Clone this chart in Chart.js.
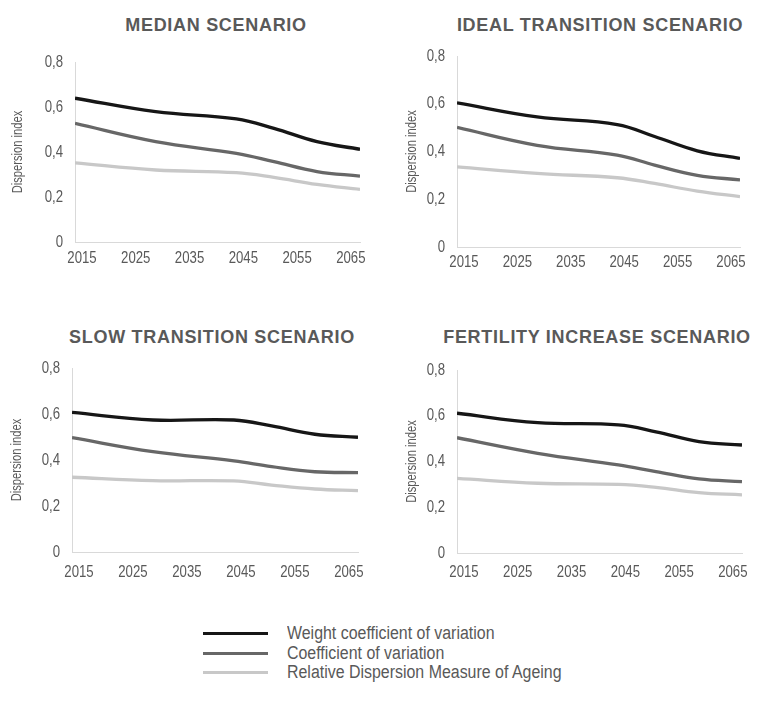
<!DOCTYPE html>
<html lang="en">
  <head>
    <title>Dispersion index scenarios</title>
    <meta charset="utf-8" />
    <script src="https://cdn.jsdelivr.net/npm/chart.js@4.4.1/dist/chart.umd.min.js"></script>
    <style>
      body {
        margin: 0;
        width: 760px;
        height: 706px;
        background: #fff;
        position: relative;
        overflow: hidden;
        font-family: "Liberation Sans", Arial, sans-serif;
        color: #595959;
      }
      .panel-title {
        position: absolute;
        transform: translate(-50%, -50%);
        white-space: nowrap;
        font-weight: bold;
        font-size: 18px;
        letter-spacing: 0.7px;
        color: #595959;
      }
      .chart-box {
        position: absolute;
      }
      .legend-row {
        position: absolute;
        left: 203px;
        height: 20px;
        width: 400px;
      }
      .legend-row .swatch {
        position: absolute;
        left: 0;
        top: 9px;
        width: 65px;
        height: 3px;
      }
      .legend-row .label {
        position: absolute;
        left: 84px;
        top: 0;
        line-height: 20px;
        font-size: 18px;
        white-space: nowrap;
        transform: scaleX(0.885);
        transform-origin: left center;
      }
    </style>
  </head>
  <body>
    <div id="legend"></div>

    <script>
      const years = [2015, 2030, 2045, 2052, 2060, 2068];
      const xTicks = [2015, 2025, 2035, 2045, 2055, 2065];
      const yTicks = [0, 0.2, 0.4, 0.6, 0.8];

      const seriesNames = [
        "Weight coefficient of variation",
        "Coefficient of variation",
        "Relative Dispersion Measure of Ageing"
      ];
      const seriesColors = ["#161616", "#676767", "#c8c8c8"];

      const medianWcv = [0.639, 0.579, 0.547, 0.505, 0.446, 0.412];
      const medianCv = [0.527, 0.446, 0.394, 0.357, 0.313, 0.293];
      const medianRdma = [0.352, 0.320, 0.308, 0.287, 0.256, 0.234];

      const idealWcv = [0.604, 0.545, 0.513, 0.463, 0.403, 0.371];
      const idealCv = [0.501, 0.426, 0.385, 0.343, 0.300, 0.281];
      const idealRdma = [0.336, 0.308, 0.290, 0.266, 0.234, 0.211];

      const slowWcv = [0.607, 0.574, 0.574, 0.548, 0.512, 0.499];
      const slowCv = [0.497, 0.436, 0.396, 0.371, 0.349, 0.345];
      const slowRdma = [0.325, 0.310, 0.309, 0.291, 0.274, 0.267];

      const fertWcv = [0.611, 0.570, 0.560, 0.530, 0.487, 0.472];
      const fertCv = [0.504, 0.436, 0.385, 0.356, 0.324, 0.312];
      const fertRdma = [0.326, 0.305, 0.300, 0.287, 0.264, 0.254];

      const labelFont = '"Liberation Sans", Arial, sans-serif';

      // plot area of every panel in page pixels
      const panels = [
        { title: "MEDIAN SCENARIO", tx: 216, ty: 25, left: 75, right: 360, top: 62, bottom: 242, yTitleX: 18, padX: 8,
          values: [medianWcv, medianCv, medianRdma] },
        { title: "IDEAL TRANSITION SCENARIO", tx: 600, ty: 25, left: 457, right: 740, top: 56, bottom: 247, yTitleX: 412, padX: 7,
          values: [idealWcv, idealCv, idealRdma] },
        { title: "SLOW TRANSITION SCENARIO", tx: 212, ty: 337, left: 72, right: 358, top: 368, bottom: 552, yTitleX: 17, padX: 12,
          values: [slowWcv, slowCv, slowRdma] },
        { title: "FERTILITY INCREASE SCENARIO", tx: 597, ty: 337, left: 457, right: 742, top: 370, bottom: 553, yTitleX: 412, padX: 11,
          values: [fertWcv, fertCv, fertRdma] }
      ];

      function commaLabel(v) {
        if (v === 0) return "0";
        return v.toFixed(1).replace(".", ",");
      }

      // the original uses a narrow face, squeeze the text horizontally
      function narrowText(ctx, text, x, y, sx, rot) {
        ctx.save();
        ctx.translate(x, y);
        if (rot) ctx.rotate(rot);
        ctx.scale(sx, 1);
        ctx.fillText(text, 0, 0);
        ctx.restore();
      }

      const axisLabels = {
        id: "axisLabels",
        afterDraw(chart, args, opts) {
          const ctx = chart.ctx;
          const xs = chart.scales.x;
          const ys = chart.scales.y;
          ctx.save();
          ctx.fillStyle = "#595959";
          ctx.textBaseline = "middle";
          ctx.font = "16.5px " + labelFont;

          ctx.textAlign = "center";
          xTicks.forEach(function (v) {
            narrowText(ctx, String(v), xs.getPixelForValue(v) + 7, xs.top + opts.padX + 8, 0.8);
          });

          ctx.textAlign = "right";
          yTicks.forEach(function (v) {
            narrowText(ctx, commaLabel(v), ys.right - 12, ys.getPixelForValue(v), 0.8);
          });

          ctx.textAlign = "center";
          ctx.font = "14.5px " + labelFont;
          narrowText(ctx, "Dispersion index", opts.titleX, (ys.top + ys.bottom) / 2, 0.77, -Math.PI / 2);
          ctx.restore();
        }
      };

      panels.forEach(function (p, i) {
        var t = document.createElement("div");
        t.className = "panel-title";
        t.style.left = p.tx + "px";
        t.style.top = p.ty + "px";
        t.textContent = p.title;
        document.body.appendChild(t);

        var canvasLeft = p.yTitleX - 12;
        var yw = p.left - canvasLeft;
        var xh = 36;
        var padTop = 14;
        var padRight = 14;
        var w = p.right + padRight - canvasLeft;
        var h = p.bottom + xh - (p.top - padTop);

        var box = document.createElement("div");
        box.className = "chart-box";
        box.style.left = canvasLeft + "px";
        box.style.top = p.top - padTop + "px";
        box.style.width = w + "px";
        box.style.height = h + "px";
        var canvas = document.createElement("canvas");
        canvas.id = "chart" + i;
        box.appendChild(canvas);
        document.body.appendChild(box);

        var datasets = p.values.map(function (vals, k) {
          return {
            label: seriesNames[k],
            data: years.map(function (yr, j) {
              return { x: yr, y: vals[j] };
            }),
            borderColor: seriesColors[k],
            backgroundColor: seriesColors[k],
            borderWidth: 3.3,
            pointRadius: 0,
            fill: false,
            tension: 0.4
          };
        });
        // black line on top
        datasets.reverse();

        new Chart(canvas, {
          type: "line",
          data: { datasets: datasets },
          plugins: [axisLabels],
          options: {
            responsive: true,
            maintainAspectRatio: false,
            animation: false,
            layout: { padding: { top: padTop, right: padRight, left: 0, bottom: 0 } },
            plugins: {
              legend: { display: false },
              tooltip: { enabled: false },
              axisLabels: { padX: p.padX, titleX: 12 }
            },
            scales: {
              x: {
                type: "linear",
                min: 2015,
                max: 2068,
                afterBuildTicks: function (scale) {
                  scale.ticks = xTicks.map(function (v) { return { value: v }; });
                },
                afterFit: function (scale) {
                  scale.height = xh;
                },
                grid: { display: false },
                border: { display: true, color: "#d9d9d9", width: 1 },
                ticks: { display: false }
              },
              y: {
                min: 0,
                max: 0.8,
                afterBuildTicks: function (scale) {
                  scale.ticks = yTicks.map(function (v) { return { value: v }; });
                },
                afterFit: function (scale) {
                  scale.width = yw;
                },
                grid: { display: false },
                border: { display: true, color: "#d9d9d9", width: 1 },
                ticks: { display: false }
              }
            }
          }
        });
      });

      // legend
      var legendTops = [623, 643, 662];
      seriesNames.forEach(function (name, k) {
        var row = document.createElement("div");
        row.className = "legend-row";
        row.style.top = legendTops[k] + "px";
        row.innerHTML =
          '<div class="swatch" style="background:' + seriesColors[k] + '"></div>' +
          '<div class="label">' + name + "</div>";
        document.getElementById("legend").appendChild(row);
      });
    </script>
  </body>
</html>
